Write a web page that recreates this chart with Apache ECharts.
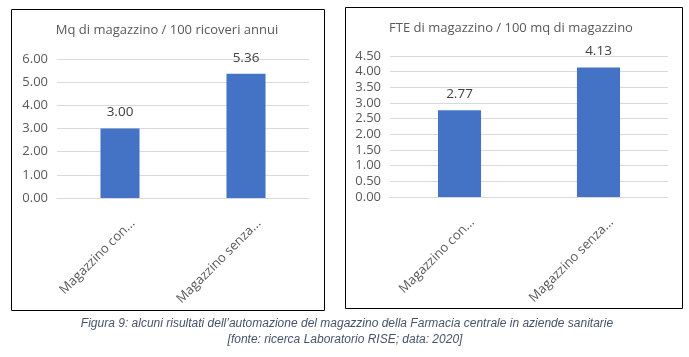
<!DOCTYPE html>
<html>
<head>
<meta charset="utf-8">
<script src="https://cdn.jsdelivr.net/npm/echarts@6/dist/echarts.min.js"></script>
<style>
html,body{margin:0;padding:0;background:#fff;}
#c{width:689px;height:357px;}
</style>
</head>
<body>
<div id="c"></div>
<script>
const categories = ['Magazzino con...', 'Magazzino senza...'];
const mqValues = [3.00, 5.36];
const fteValues = [2.77, 4.13];
const titleLeft = 'Mq di magazzino / 100 ricoveri annui';
const titleRight = 'FTE di magazzino / 100 mq di magazzino';
const captionLine1 = 'Figura 9: alcuni risultati dell\u2019automazione del magazzino della Farmacia centrale in aziende sanitarie';
const captionLine2 = '[fonte: ricerca Laboratorio RISE; data: 2020]';

const FONT = 'Open Sans';
const chart = echarts.init(document.getElementById('c'), null, {renderer: 'canvas'});

function xAxis(gi) {
  return {
    type: 'category', gridIndex: gi, data: categories,
    axisLine: {show: true, lineStyle: {color: '#d9d9d9', width: 1}},
    axisTick: {show: false},
    axisLabel: {rotate: 45, color: '#595959', fontSize: 13, fontFamily: FONT, margin: 36,
      padding: [0, -18, 0, 0], interval: 0}
  };
}
function yAxis(gi, max, step) {
  return {
    type: 'value', gridIndex: gi, min: 0, max: max, interval: step,
    axisLine: {show: false}, axisTick: {show: false},
    splitLine: {lineStyle: {color: '#d9d9d9', width: 1}},
    axisLabel: {color: '#595959', fontSize: 13, fontFamily: FONT, margin: 9,
      formatter: v => v.toFixed(2)}
  };
}
function bar(gi, data) {
  return {
    type: 'bar', xAxisIndex: gi, yAxisIndex: gi, data: data, barWidth: '31%',
    itemStyle: {color: '#4472C4'},
    label: {show: true, position: 'top', distance: 9, color: '#404040', fontSize: 13.5, fontFamily: FONT,
      formatter: p => p.value.toFixed(2)},
    silent: true
  };
}

chart.setOption({
  animation: false,
  grid: [
    {left: 57, right: 689 - 309, top: 59, bottom: 357 - 198},
    {left: 390, right: 689 - 668, top: 56, bottom: 357 - 197}
  ],
  xAxis: [xAxis(0), xAxis(1)],
  yAxis: [yAxis(0, 6, 1), yAxis(1, 4.5, 0.5)],
  series: [bar(0, mqValues), bar(1, fteValues)],
  graphic: [
    {type: 'rect', shape: {x: 11.5, y: 9.5, width: 313, height: 301}, style: {fill: null, stroke: '#000', lineWidth: 1}, silent: true},
    {type: 'rect', shape: {x: 345.5, y: 7.5, width: 337, height: 301}, style: {fill: null, stroke: '#000', lineWidth: 1}, silent: true},
    {type: 'text', x: 167, y: 30, style: {text: titleLeft, fill: '#595959', font: '13px "Open Sans"', textAlign: 'center', textVerticalAlign: 'middle'}, silent: true},
    {type: 'text', x: 511, y: 28, style: {text: titleRight, fill: '#595959', font: '13px "Open Sans"', textAlign: 'center', textVerticalAlign: 'middle'}, silent: true},
    {type: 'text', x: 347, y: 324, style: {text: captionLine1, fill: '#44546A', font: 'italic 12px "Liberation Sans"', textAlign: 'center', textVerticalAlign: 'middle'}, silent: true},
    {type: 'text', x: 345, y: 340, style: {text: captionLine2, fill: '#44546A', font: 'italic 12px "Liberation Sans"', textAlign: 'center', textVerticalAlign: 'middle'}, silent: true}
  ]
});
</script>
</body>
</html>
